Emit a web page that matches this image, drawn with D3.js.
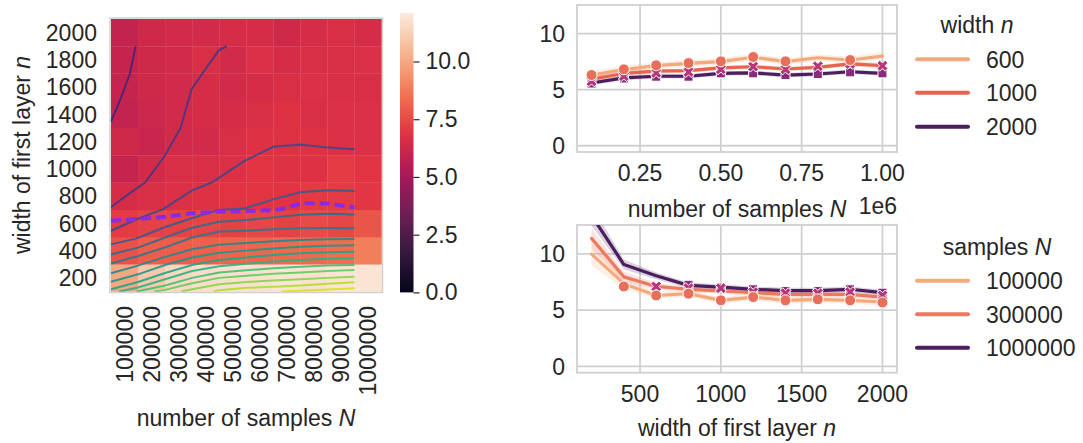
<!DOCTYPE html>
<html>
<head>
<meta charset="utf-8">
<script src="https://cdn.jsdelivr.net/npm/d3@7"></script>
<style>
body { margin: 0; background: #fff; }
text { font-family: "Liberation Sans", Arial, sans-serif; fill: #262626; }
</style>
</head>
<body>
<script>
// ---- data ----
var samplesN = [100000, 200000, 300000, 400000, 500000, 600000, 700000, 800000, 900000, 1000000];
var widthsN = [200, 400, 600, 800, 1000, 1200, 1400, 1600, 1800, 2000];

// heatmap rows, one per width (200 first), columns follow samplesN
var heatValues = [
  [10.0, 11.0, 11.5, 11.7, 11.8, 11.8, 11.9, 11.8, 11.9, 11.9],
  [7.7, 8.0, 8.0, 8.1, 8.2, 8.2, 8.3, 8.3, 8.4, 8.9],
  [7.1, 7.3, 7.3, 7.4, 7.3, 7.4, 7.3, 7.5, 7.4, 7.8],
  [6.5, 6.6, 6.7, 6.8, 6.9, 6.9, 6.9, 7.1, 7.1, 7.0],
  [6.0, 6.4, 6.6, 6.6, 6.7, 6.9, 6.8, 6.8, 7.1, 6.9],
  [6.3, 6.1, 6.4, 6.4, 6.6, 6.8, 6.8, 6.8, 6.7, 6.7],
  [5.9, 6.2, 6.4, 6.5, 6.5, 6.6, 6.8, 6.6, 6.7, 6.7],
  [6.0, 6.3, 6.4, 6.5, 6.4, 6.5, 6.6, 6.7, 6.6, 6.6],
  [6.0, 6.3, 6.4, 6.6, 6.4, 6.7, 6.5, 6.6, 6.6, 6.7],
  [5.9, 6.3, 6.4, 6.4, 6.5, 6.5, 6.3, 6.5, 6.6, 6.5]
];
var colorMax = 12.1;
var colorTicks = [0, 2.5, 5, 7.5, 10];

// contour lines in cell-index units [column, row-from-bottom]
var contourLines = [
  [[0, 6.23], [0.33, 7.0], [0.70, 8.0], [0.91, 9.0]],
  [[0, 3.09], [0.52, 3.48], [1.26, 4.0], [2, 5.0], [2.57, 6.0], [2.98, 7.42], [3.47, 8.13], [3.99, 8.86], [4.28, 9.0]],
  [[0, 2.23], [0.95, 2.65], [1.93, 3.02], [2.98, 3.7], [3.72, 4.0], [4.95, 4.8], [6, 5.31], [6.99, 5.39], [8.03, 5.28], [9, 5.22]],
  [[0, 1.73], [0.95, 1.95], [1.93, 2.34], [2.98, 2.69], [3.97, 2.99], [4.95, 3.05], [6, 3.38], [6.99, 3.64], [8.03, 3.72], [9, 3.69]],
  [[0, 1.36], [1, 1.61], [2, 1.98], [3, 2.34], [4, 2.56], [5, 2.62], [6, 2.72], [7, 2.82], [8, 2.85], [9, 2.83]],
  [[0, 1.03], [1, 1.30], [2, 1.62], [3, 1.98], [4, 2.20], [5, 2.23], [6, 2.28], [7, 2.32], [8, 2.33], [9, 2.32]],
  [[0, 0.67], [1, 0.95], [2, 1.27], [3, 1.55], [4, 1.72], [5, 1.78], [6, 1.84], [7, 1.89], [8, 1.92], [9, 1.93]],
  [[0, 0.36], [1, 0.63], [2, 0.97], [3, 1.25], [4, 1.42], [5, 1.50], [6, 1.58], [7, 1.64], [8, 1.68], [9, 1.70]],
  [[0, 0.08], [1, 0.35], [2, 0.68], [3, 0.97], [4, 1.16], [5, 1.25], [6, 1.34], [7, 1.40], [8, 1.44], [9, 1.46]],
  [[0.3, 0], [1, 0.15], [2, 0.45], [3, 0.75], [4, 0.93], [5, 1.02], [6, 1.10], [7, 1.16], [8, 1.20], [9, 1.22]],
  [[0.95, 0], [2, 0.22], [3, 0.50], [4, 0.70], [5, 0.78], [6, 0.85], [7, 0.91], [8, 0.95], [9, 0.97]],
  [[1.6, 0], [2, 0.06], [3, 0.30], [4, 0.50], [5, 0.58], [6, 0.65], [7, 0.70], [8, 0.75], [9, 0.79]],
  [[2.6, 0], [3, 0.08], [4, 0.27], [5, 0.35], [6, 0.40], [7, 0.45], [8, 0.50], [9, 0.54]],
  [[3.8, 0], [4, 0.05], [5, 0.14], [6, 0.17], [7, 0.22], [8, 0.28], [9, 0.34]],
  [[6.3, 0], [7, 0.03], [8, 0.07], [9, 0.12]]
];
var dashedLine = [[0, 2.60], [0.95, 2.66], [1.93, 2.73], [2.98, 2.87], [3.97, 2.93], [4.95, 2.95], [6, 2.99], [6.31, 3.03], [7.05, 3.24], [8.03, 3.23], [9, 3.08]];

// top right: error vs N for three widths
var topX = [0.1, 0.2, 0.3, 0.4, 0.5, 0.6, 0.7, 0.8, 0.9, 1.0];
var topWidths = ["600", "1000", "2000"];
var top600 = [6.3, 6.8, 7.15, 7.35, 7.5, 7.9, 7.5, 7.85, 7.65, 8.0];
var top1000 = [5.95, 6.45, 6.65, 6.7, 6.95, 7.05, 6.85, 7.0, 7.3, 7.15];
var top2000 = [5.6, 6.05, 6.2, 6.2, 6.45, 6.5, 6.3, 6.4, 6.6, 6.45];
var topCi600 = [0.35, 0.35, 0.3, 0.3, 0.3, 0.3, 0.3, 0.3, 0.3, 0.35];
var topCi1000 = [0.25, 0.25, 0.2, 0.2, 0.2, 0.2, 0.2, 0.2, 0.2, 0.25];
var topCi2000 = [0.2, 0.2, 0.2, 0.2, 0.2, 0.2, 0.2, 0.2, 0.2, 0.2];
var topCircles = [6.31, 6.82, 7.18, 7.38, 7.53, 7.92, 7.53, null, 7.65, null];
var topCrosses = [5.75, 6.2, 6.5, 6.58, 6.82, 7.06, 6.82, 7.1, 7.3, 7.14];
var topSquares = [5.55, 6.0, 6.16, 6.16, 6.46, 6.46, 6.3, 6.4, 6.55, 6.46];

// bottom right: error vs n for three sample sizes
var botX = [200, 400, 600, 800, 1000, 1200, 1400, 1600, 1800, 2000];
var botSamples = ["100000", "300000", "1000000"];
var bot100k = [9.97, 7.35, 6.3, 6.46, 5.87, 6.16, 5.87, 5.96, 5.87, 5.72];
var bot300k = [11.37, 7.95, 7.1, 6.85, 6.7, 6.55, 6.4, 6.4, 6.4, 6.16];
var bot1M = [13.4, 9.05, 8.05, 7.2, 7.05, 6.85, 6.73, 6.73, 6.85, 6.55];
var botCi100k = [1.0, 0.5, 0.3, 0.3, 0.3, 0.3, 0.3, 0.3, 0.3, 0.3];
var botCi300k = [0.9, 0.45, 0.3, 0.25, 0.25, 0.25, 0.25, 0.25, 0.25, 0.25];
var botCi1M = [0.9, 0.45, 0.3, 0.25, 0.25, 0.25, 0.25, 0.25, 0.25, 0.25];
var botCircles = [null, 7.1, 6.3, 6.46, 5.87, 6.16, 5.87, 5.96, 5.87, 5.68];
var botCrosses = [null, null, 7.1, 6.95, 6.95, 6.6, 6.5, 6.5, 6.6, 6.3];
var botSquares = [null, null, null, 7.25, 7.0, 6.85, 6.7, 6.7, 6.85, 6.55];

var rightTicksY = [0, 5, 10];
var topTicksX = [0.25, 0.5, 0.75, 1.0];
var botTicksX = [500, 1000, 1500, 2000];

var topColors = ["#f2aa7d", "#e5654f", "#4b1e5e"];
var botColors = ["#f2aa7d", "#ea7a60", "#4b1e5e"];
var markColors = {circle: "#e8705a", cross: "#b8367a", square: "#8a2a7c"};

// ---- page ----
var W = 1083, H = 443;
var svg = d3.select('body').append('svg')
    .attr('width', W)
    .attr('height', H);

var fs = 23;

// rocket colormap
var rocket = d3.scaleLinear()
    .domain([0, 1/7, 2/7, 3/7, 4/7, 5/7, 6/7, 1])
    .range(["#03051a", "#35193e", "#701f57", "#ad1759", "#e13342", "#f37651", "#f6b48f", "#faebdd"])
    .interpolate(d3.interpolateRgb);
var color = function(v) { return rocket(Math.max(0, Math.min(1, v / colorMax))); };

// ---- heatmap ----
var hx = d3.scaleBand().domain(samplesN).range([111, 381.5]);
var hy = d3.scaleBand().domain(widthsN.slice().reverse()).range([19, 291.5]);
var gx = d3.scaleLinear().domain([0, 10]).range([111, 381.5]);
var gy = d3.scaleLinear().domain([0, 10]).range([291.5, 19]);

var cells = [];
heatValues.forEach(function(row, j) {
  row.forEach(function(v, i) { cells.push({N: samplesN[i], n: widthsN[j], v: v}); });
});

var heat = svg.append('g').attr('class', 'heatmap');
heat.selectAll('rect.cell')
    .data(cells)
  .enter().append('rect')
    .attr('class', 'cell')
    .attr('x', function(d) { return hx(d.N); })
    .attr('y', function(d) { return hy(d.n); })
    .attr('width', hx.bandwidth() + 0.3)
    .attr('height', hy.bandwidth() + 0.3)
    .attr('fill', function(d) { return color(d.v); });

var cline = d3.line().x(function(d) { return gx(d[0]); }).y(function(d) { return gy(d[1]); });

heat.selectAll('path.contour')
    .data(contourLines)
  .enter().append('path')
    .attr('class', 'contour')
    .attr('d', cline)
    .attr('fill', 'none')
    .attr('stroke', function(d, i) { return d3.interpolateViridis(0.1 + i * 0.06); })
    .attr('stroke-width', 2)
    .attr('stroke-opacity', 0.9);

heat.append('path')
    .attr('d', cline(dashedLine))
    .attr('fill', 'none')
    .attr('stroke', '#8a2be2')
    .attr('stroke-width', 4)
    .attr('stroke-dasharray', '10,5');

heat.append('rect')
    .attr('x', 110).attr('y', 18)
    .attr('width', 272.5).attr('height', 274.5)
    .attr('fill', 'none')
    .attr('stroke', '#d0d0d0')
    .attr('stroke-width', 1.5);

// heatmap tick labels
heat.selectAll('text.ylab')
    .data(widthsN)
  .enter().append('text')
    .attr('x', 97)
    .attr('y', function(d) { return hy(d) + hy.bandwidth() / 2; })
    .attr('dy', '0.36em')
    .attr('text-anchor', 'end')
    .style('font-size', fs + 'px')
    .text(function(d) { return d; });

heat.selectAll('text.xlab')
    .data(samplesN)
  .enter().append('text')
    .attr('transform', function(d) { return 'translate(' + (hx(d) + hx.bandwidth() / 2) + ',306) rotate(-90)'; })
    .attr('dy', '0.36em')
    .attr('text-anchor', 'end')
    .style('font-size', fs + 'px')
    .text(function(d) { return d; });

var yl = heat.append('text')
    .attr('transform', 'translate(22,155) rotate(-90)')
    .attr('dy', '0.36em')
    .attr('text-anchor', 'middle')
    .style('font-size', fs + 'px');
yl.append('tspan').text('width of first layer ');
yl.append('tspan').style('font-style', 'italic').text('n');

var xl = heat.append('text')
    .attr('x', 246).attr('y', 418)
    .attr('dy', '0.36em')
    .attr('text-anchor', 'middle')
    .style('font-size', fs + 'px');
xl.append('tspan').text('number of samples ');
xl.append('tspan').style('font-style', 'italic').text('N');

// ---- colorbar ----
var cy = d3.scaleLinear().domain([0, colorMax]).range([292.4, 13]);
var defs = svg.append('defs');
var grad = defs.append('linearGradient').attr('id', 'cbar')
    .attr('x1', 0).attr('y1', 1).attr('x2', 0).attr('y2', 0);
d3.range(0, 1.0001, 0.05).forEach(function(t) {
  grad.append('stop').attr('offset', t).attr('stop-color', rocket(t));
});
svg.append('rect')
    .attr('x', 400).attr('y', cy(colorMax))
    .attr('width', 13.5).attr('height', cy(0) - cy(colorMax))
    .attr('fill', 'url(#cbar)');

var cbAxis = svg.append('g')
    .attr('transform', 'translate(413.5,0)')
    .call(d3.axisRight(cy).tickValues(colorTicks).tickFormat(d3.format('.1f')).tickSize(6).tickPadding(6));
cbAxis.select('.domain').remove();
cbAxis.selectAll('line').attr('stroke', '#262626').attr('stroke-width', 1.2);
cbAxis.selectAll('text').style('font-size', fs + 'px').attr('fill', '#262626')
    .style('font-family', '"Liberation Sans", Arial, sans-serif');

// ---- line panels ----
var yDomain = [-0.56, 12.56];

function crossPath(cx, cyy, r) {
  var k = 0.5, q = 0.5;
  var pts = [[-1, -1 + k], [-1 + k, -1], [0, -q], [1 - k, -1], [1, -1 + k], [q, 0],
             [1, 1 - k], [1 - k, 1], [0, q], [-1 + k, 1], [-1, 1 - k], [-q, 0]];
  return 'M' + pts.map(function(p) { return (cx + p[0] * r) + ',' + (cyy + p[1] * r); }).join('L') + 'Z';
}

function panel(opts) {
  var x = d3.scaleLinear().domain(opts.xDomain).range([577, 897]);
  var y = d3.scaleLinear().domain(yDomain).range([opts.bottom, opts.top]);
  var g = svg.append('g');
  var clipId = 'clip' + opts.top;
  defs.append('clipPath').attr('id', clipId).append('rect')
      .attr('x', 577).attr('y', opts.top).attr('width', 320).attr('height', opts.bottom - opts.top);

  // grid
  g.selectAll('line.gx').data(opts.xTicks).enter().append('line')
      .attr('x1', function(d) { return x(d); }).attr('x2', function(d) { return x(d); })
      .attr('y1', opts.top).attr('y2', opts.bottom)
      .attr('stroke', '#d0d0d0').attr('stroke-width', 1.8);
  g.selectAll('line.gy').data(rightTicksY).enter().append('line')
      .attr('y1', function(d) { return y(d); }).attr('y2', function(d) { return y(d); })
      .attr('x1', 577).attr('x2', 897)
      .attr('stroke', '#d0d0d0').attr('stroke-width', 1.8);
  g.append('rect')
      .attr('x', 577).attr('y', opts.top).attr('width', 320).attr('height', opts.bottom - opts.top)
      .attr('fill', 'none').attr('stroke', '#d0d0d0').attr('stroke-width', 1.8);

  var plot = g.append('g').attr('clip-path', 'url(#' + clipId + ')');
  var xs = opts.xs;
  opts.series.forEach(function(s, si) {
    var pts = s.map(function(v, i) { return {x: xs[i], y: v, ci: opts.ci[si][i]}; });
    plot.append('path')
        .attr('d', d3.area().x(function(d) { return x(d.x); })
            .y0(function(d) { return y(d.y - d.ci); }).y1(function(d) { return y(d.y + d.ci); })(pts))
        .attr('fill', opts.colors[si]).attr('fill-opacity', 0.2);
  });
  opts.series.forEach(function(s, si) {
    var pts = s.map(function(v, i) { return {x: xs[i], y: v}; });
    plot.append('path')
        .attr('d', d3.line().x(function(d) { return x(d.x); }).y(function(d) { return y(d.y); })(pts))
        .attr('fill', 'none').attr('stroke', opts.colors[si]).attr('stroke-width', 3.2)
        .attr('stroke-linecap', 'round').attr('stroke-linejoin', 'round');
  });

  function valid(arr) {
    return arr.map(function(v, i) { return {x: xs[i], y: v}; }).filter(function(d) { return d.y !== null; });
  }
  plot.selectAll('rect.sq').data(valid(opts.squares)).enter().append('rect')
      .attr('x', function(d) { return x(d.x) - 4.5; }).attr('y', function(d) { return y(d.y) - 4.5; })
      .attr('width', 9).attr('height', 9)
      .attr('fill', markColors.square).attr('stroke', '#fff').attr('stroke-width', 1);
  plot.selectAll('path.cr').data(valid(opts.crosses)).enter().append('path')
      .attr('d', function(d) { return crossPath(x(d.x), y(d.y), 5.5); })
      .attr('fill', markColors.cross).attr('stroke', '#fff').attr('stroke-width', 1);
  plot.selectAll('circle.ci').data(valid(opts.circles)).enter().append('circle')
      .attr('cx', function(d) { return x(d.x); }).attr('cy', function(d) { return y(d.y); })
      .attr('r', 5.5)
      .attr('fill', markColors.circle).attr('stroke', '#fff').attr('stroke-width', 1);

  // tick labels
  g.selectAll('text.yt').data(rightTicksY).enter().append('text')
      .attr('x', 565).attr('y', function(d) { return y(d); })
      .attr('dy', '0.36em').attr('text-anchor', 'end')
      .style('font-size', fs + 'px').text(function(d) { return d; });
  g.selectAll('text.xt').data(opts.xTicks).enter().append('text')
      .attr('x', function(d) { return x(d); }).attr('y', opts.bottom + 21)
      .attr('dy', '0.36em').attr('text-anchor', 'middle')
      .style('font-size', fs + 'px').text(opts.xFormat);

  var lab = g.append('text')
      .attr('x', 737).attr('y', opts.bottom + opts.labelOffset)
      .attr('dy', '0.36em').attr('text-anchor', 'middle')
      .style('font-size', fs + 'px');
  lab.append('tspan').text(opts.label[0]);
  lab.append('tspan').style('font-style', 'italic').text(opts.label[1]);

  // legend
  var lg = g.append('g');
  var tl = lg.append('text')
      .attr('x', opts.legend.titleX).attr('y', opts.legend.titleY)
      .attr('dy', '0.36em').attr('text-anchor', 'middle')
      .style('font-size', fs + 'px');
  tl.append('tspan').text(opts.legend.title[0]);
  tl.append('tspan').style('font-style', 'italic').text(opts.legend.title[1]);
  opts.legend.labels.forEach(function(l, i) {
    var yy = opts.legend.rows[i];
    lg.append('line').attr('x1', 917).attr('x2', 968).attr('y1', yy).attr('y2', yy)
        .attr('stroke', opts.colors[i]).attr('stroke-width', 4).attr('stroke-linecap', 'round');
    lg.append('text').attr('x', 986).attr('y', yy).attr('dy', '0.36em')
        .style('font-size', fs + 'px').text(l);
  });
  return {x: x, y: y};
}

panel({
  top: 5, bottom: 152,
  xDomain: [0.055, 1.045], xs: topX, xTicks: topTicksX,
  xFormat: d3.format('.2f'),
  series: [top600, top1000, top2000],
  ci: [topCi600, topCi1000, topCi2000],
  colors: topColors,
  circles: topCircles, crosses: topCrosses, squares: topSquares,
  label: ['number of samples ', 'N'], labelOffset: 57,
  legend: {title: ['width ', 'n'], titleX: 977, titleY: 25, rows: [59.3, 92.7, 126.7], labels: topWidths}
});

svg.append('text')
    .attr('x', 897).attr('y', 206).attr('dy', '0.36em')
    .attr('text-anchor', 'end')
    .style('font-size', fs + 'px')
    .text('1e6');

panel({
  top: 225, bottom: 372.7,
  xDomain: [110, 2090], xs: botX, xTicks: botTicksX,
  xFormat: function(d) { return d; },
  series: [bot100k, bot300k, bot1M],
  ci: [botCi100k, botCi300k, botCi1M],
  colors: botColors,
  circles: botCircles, crosses: botCrosses, squares: botSquares,
  label: ['width of first layer ', 'n'], labelOffset: 55,
  legend: {title: ['samples ', 'N'], titleX: 997, titleY: 247, rows: [280.7, 314.3, 347.7], labels: botSamples}
});
</script>
</body>
</html>
